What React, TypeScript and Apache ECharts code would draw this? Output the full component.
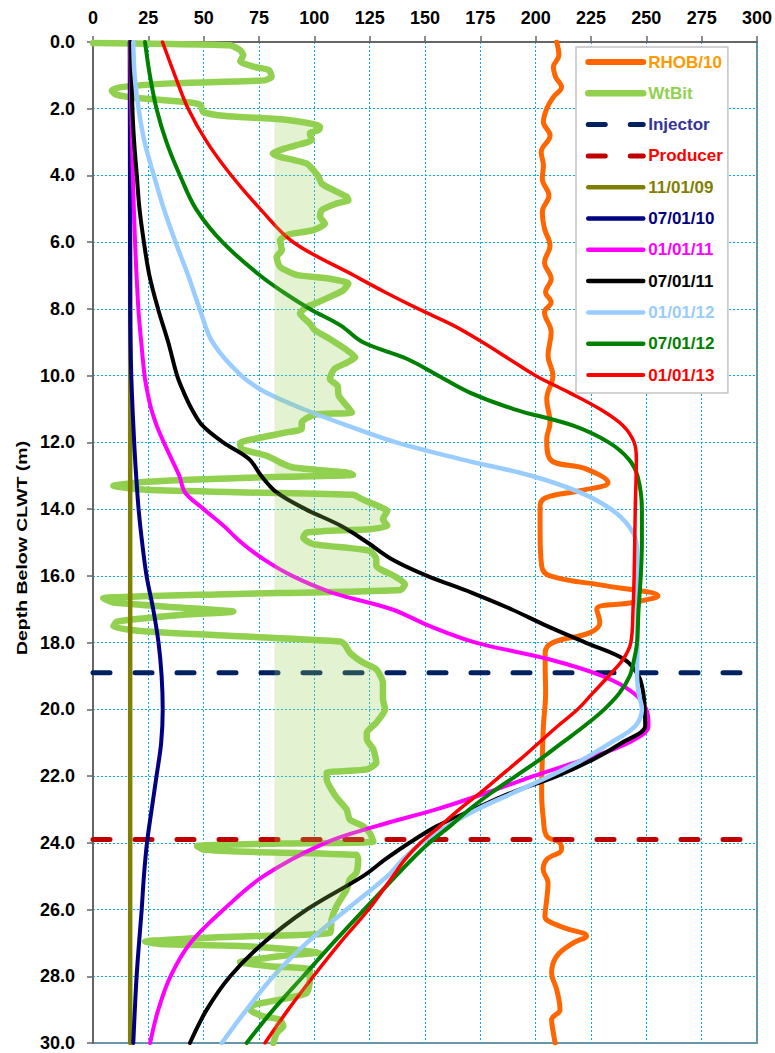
import React, { useEffect, useRef } from "react";
import * as echarts from "echarts";

// ---- axis ranges ----
const X_MIN = 0;
const X_MAX = 300;
const X_STEP = 25;
const DEPTH_MIN = 0;
const DEPTH_MAX = 30;
const DEPTH_STEP = 2;
const SHADE_BASE = 82;

// ---- data: [depth (m), value] ----
const rhob: number[][] = [
  [0, 209.5], [0.4, 210.5], [0.75, 208], [1.05, 209], [1.35, 211.7], [1.65, 208], [2.0, 205], [2.4, 203.5],
  [2.8, 206.5], [3.3, 202.5], [3.7, 203.5], [4.1, 203], [4.6, 206], [5.1, 203], [5.6, 204], [6.1, 206.5],
  [6.6, 204], [7.1, 207], [7.5, 204.5], [7.8, 207], [8.1, 204], [8.7, 207], [9.4, 205.6], [10.0, 207.8],
  [10.7, 205], [11.4, 206.5], [11.9, 205], [12.5, 206.5], [12.8, 223], [13.2, 232.7], [13.45, 220], [13.65, 205],
  [13.9, 202], [14.7, 202], [15.7, 202.7], [16.0, 206.5], [16.3, 232], [16.6, 255.3], [16.8, 244], [17.0, 227.6],
  [17.4, 229], [17.7, 224.6], [18.0, 207.8], [18.3, 204.3], [18.7, 204.3], [19.5, 204.5], [20.5, 203.5], [21.5, 203],
  [22.5, 202.7], [23.3, 203.5], [23.8, 205], [24.0, 211], [24.2, 211.7], [24.5, 205], [24.8, 203.4], [25.2, 205.6],
  [25.7, 205], [26.2, 204.2], [26.5, 211], [26.8, 223], [27.0, 217], [27.4, 209.5], [27.9, 207.2], [28.4, 209.5],
  [29.0, 211], [29.3, 207.2], [29.7, 208], [30.0, 208.8],
];

const wtBit: number[][] = [
  [0.03, 0], [0.06, 35], [0.1, 62], [0.24, 66.4], [0.4, 67.9], [0.58, 66.5], [0.74, 72.5], [0.84, 79.5],
  [1.04, 80.7], [1.15, 77.5], [1.24, 35], [1.36, 12], [1.46, 8.5], [1.58, 10.5], [1.68, 20], [1.8, 42],
  [1.88, 48.5], [2.1, 49.8], [2.22, 60], [2.32, 86], [2.46, 99.6], [2.54, 102.6], [2.64, 101.9], [2.74, 98],
  [2.94, 98.8], [3.09, 92], [3.24, 84.5], [3.34, 81.2], [3.44, 84.5], [3.64, 96.5], [3.84, 99.6], [4.04, 101.9],
  [4.24, 103.3], [4.44, 108.6], [4.64, 114.6], [4.74, 115.4], [4.84, 110], [5.04, 103.3], [5.24, 102.6], [5.44, 104.8],
  [5.64, 99.6], [5.76, 89], [5.94, 84.5], [6.24, 85.3], [6.44, 83], [6.74, 84.5], [6.98, 92], [7.08, 105.6],
  [7.24, 115.4], [7.44, 113.1], [7.64, 107], [7.84, 100.3], [7.94, 96.5], [8.14, 93.5], [8.44, 98], [8.64, 100.3],
  [8.9, 107], [9.2, 114], [9.45, 118.5], [9.6, 115], [9.8, 109], [10.1, 107], [10.3, 110.5], [10.6, 111],
  [10.9, 114.6], [11.1, 117], [11.17, 100], [11.4, 94.3], [11.6, 94.3], [11.7, 87.5], [11.9, 72.4], [12.02, 66.4],
  [12.2, 67.2], [12.4, 78.5], [12.6, 84.5], [12.75, 90.5], [12.9, 114.6], [12.97, 117.5], [13.06, 69.4], [13.18, 24.2],
  [13.3, 9.2], [13.42, 24.2], [13.5, 69.4], [13.57, 117.6], [13.67, 120.6], [13.8, 125], [13.93, 129.7], [14.05, 133],
  [14.3, 131], [14.5, 133], [14.6, 125], [14.7, 96.5], [14.86, 95], [15.05, 99.6], [15.25, 125], [15.5, 128],
  [15.7, 128], [16.0, 136], [16.25, 141], [16.42, 139], [16.55, 60], [16.67, 4.6], [16.8, 9.2], [16.95, 39.3],
  [17.07, 63.4], [17.17, 39.3], [17.37, 10.7], [17.52, 9.2], [17.67, 24.2], [17.82, 69.4], [17.97, 111.6], [18.07, 113.9],
  [18.3, 116], [18.6, 122], [18.8, 128], [19.2, 131], [19.7, 131], [20.0, 132], [20.4, 128], [20.7, 123.7],
  [20.9, 123.7], [21.2, 126.7], [21.6, 128], [21.8, 123.7], [21.9, 105.6], [22.1, 105.6], [22.5, 108.6], [22.7, 110.8],
  [23.0, 114.6], [23.3, 116], [23.5, 122], [23.7, 125], [23.96, 126.7], [24.02, 84.5], [24.1, 47], [24.2, 50],
  [24.27, 69.4], [24.36, 119], [24.5, 119.8], [24.9, 119], [25.1, 116], [25.4, 114.6], [25.9, 110], [26.3, 107.8],
  [26.7, 107], [26.8, 69.4], [26.96, 23.5], [27.03, 30], [27.1, 69.4], [27.28, 102.6], [27.4, 84.5], [27.58, 66.4],
  [27.7, 80], [27.8, 98], [28.1, 98], [28.5, 96.5], [28.7, 84.5], [28.86, 72.4], [29.0, 71], [29.2, 77],
  [29.3, 84.5], [29.5, 86], [29.7, 83], [30.0, 81.5],
];

const injectorDepth = 18.9;
const producerDepth = 23.9;

const d091101: number[][] = [[0, 16.8], [10, 16.8], [20, 16.8], [30, 16.8]];

const d100701: number[][] = [
  [0, 16.6], [4, 16.7], [8, 16.8], [10, 17.3], [12, 18.6], [13, 19.5], [14, 20.6], [15, 22.2], [16, 24.2],
  [17, 27.2], [18, 29.6], [19, 31.0], [20, 31.5], [21, 30.8], [22, 28.7], [23, 26.5], [24, 24.4], [25, 23.0],
  [26, 22.0], [27, 20.8], [28, 19.7], [29, 18.9], [30, 18.2],
];

const d110101: number[][] = [
  [0, 16.8], [2, 17.3], [4, 18.0], [6, 19.0], [8, 20.5], [9, 21.8], [10, 23.3], [10.5, 24.6], [11, 26.3],
  [11.5, 28.8], [12, 32.0], [12.5, 35.5], [13, 39.0], [13.5, 41.6], [14, 50.0], [14.5, 59.0], [15, 67.0],
  [15.5, 77.0], [16, 90.0], [16.5, 108.0], [17, 135.0], [17.5, 152.0], [18, 173.0], [18.5, 206.0], [19, 230.0],
  [19.5, 244.0], [20, 250.0], [20.5, 251.0], [21, 242.0], [21.5, 222.0], [22, 199.0], [22.5, 178.0], [23, 155.0],
  [23.5, 128.0], [24, 105.0], [25, 77.0], [26, 59.0], [27, 44.0], [28, 35.0], [29, 29.5], [30, 25.8],
];

const d110701: number[][] = [
  [0, 17], [2, 17.8], [3, 18.6], [4, 19.8], [5, 21.0], [6, 23.0], [7, 25.5], [8, 29.4], [9, 34.0], [10, 38.0],
  [10.5, 41.0], [11, 44.6], [11.5, 49.5], [12, 58.8], [12.5, 70.5], [13, 76.0], [13.5, 83.0], [14, 96.0],
  [14.5, 112.0], [15, 124.0], [15.5, 135.0], [16, 151.0], [16.5, 171.0], [17, 189.0], [17.5, 205.0], [18, 222.5],
  [18.5, 240.0], [19, 246.5], [19.5, 248.6], [20, 249.3], [20.5, 249.5], [21, 239.0], [21.5, 226.0], [22, 209.6],
  [22.5, 189.0], [23, 172.0], [23.5, 155.4], [24, 143.0], [24.5, 132.0], [25, 122.0], [26, 96.6], [27, 77.0],
  [28, 62.0], [29, 51.4], [30, 43.8],
];

const d120101: number[][] = [
  [0, 18.2], [1, 18.8], [2, 20.6], [3, 23.3], [4, 27.5], [5, 32.0], [6, 37.3], [7, 43.0], [8, 48.2], [9, 54.0],
  [10, 67.0], [10.5, 78.0], [11, 95.0], [11.5, 115.0], [12, 137.0], [12.5, 166.0], [13, 198.0], [13.5, 220.0],
  [14, 234.0], [14.5, 242.0], [15, 245.5], [16, 246.0], [17, 246.0], [18, 246.0], [19, 245.8], [19.5, 246.5],
  [20, 248.0], [20.5, 245.0], [21, 234.0], [21.5, 221.4], [22, 206.5], [22.5, 190.0], [23, 173.5], [23.5, 160.0],
  [24, 148.5], [24.5, 140.0], [25, 133.0], [26, 114.6], [27, 96.6], [28, 81.5], [29, 69.4], [30, 58.2],
];

const d120701: number[][] = [
  [0, 23.5], [1, 25.7], [2, 28.7], [3, 33.2], [4, 39.3], [5, 46.5], [6, 58.5], [7, 75.5], [7.5, 86], [8, 98],
  [8.5, 112], [9, 122], [9.5, 142], [10, 156], [10.5, 170], [11, 190], [11.5, 217], [12, 233], [12.5, 242],
  [13, 246], [14, 248], [15, 248], [16, 247.5], [17, 246.5], [18, 245.8], [18.5, 244.5], [19, 242.5], [19.5, 238],
  [20, 231], [20.5, 222], [21, 212], [21.5, 202], [22, 191], [22.5, 180], [23, 170], [23.5, 161.3], [24, 152],
  [24.5, 144], [25, 136.8], [26, 122.5], [27, 108.5], [28, 95], [29, 81.5], [30, 69.4],
];

const d130101: number[][] = [
  [0, 31.4], [1, 37], [2, 43], [3, 51.5], [4, 62.5], [5, 75.5], [6, 90.5], [7, 118], [7.5, 132], [8, 147],
  [8.5, 163], [9, 176], [9.5, 188], [10, 200], [10.5, 215], [11, 229], [11.5, 239.5], [12, 244.5], [12.5, 245.5],
  [14, 245], [16, 244.5], [17, 244], [18, 243], [18.5, 239.5], [19, 233], [19.5, 226], [20, 219], [20.5, 210],
  [21, 201.5], [21.5, 193], [22, 184], [22.5, 175], [23, 165.5], [23.5, 156.8], [24, 148], [24.5, 141],
  [25, 135.5], [26, 124.5], [27, 111.6], [28, 99.6], [29, 88.2], [30, 77.7],
];

const FONT = "'Liberation Sans', Arial, sans-serif";

type Item = { name: string; color: string; text: string; width: number };
const legendItems: Item[] = [
  { name: "RHOB/10", color: "#FF6600", text: "#FF9900", width: 6 },
  { name: "WtBit", color: "#92D050", text: "#92D050", width: 6.5 },
  { name: "Injector", color: "#002060", text: "#333399", width: 5 },
  { name: "Producer", color: "#C00000", text: "#FF0000", width: 5 },
  { name: "11/01/09", color: "#808000", text: "#808000", width: 4.5 },
  { name: "07/01/10", color: "#000080", text: "#000080", width: 4.5 },
  { name: "01/01/11", color: "#FF00FF", text: "#FF00FF", width: 4.5 },
  { name: "07/01/11", color: "#000000", text: "#000000", width: 4.5 },
  { name: "01/01/12", color: "#99CCFF", text: "#99CCFF", width: 4.5 },
  { name: "07/01/12", color: "#008000", text: "#008000", width: 4.5 },
  { name: "01/01/13", color: "#FF0000", text: "#FF0000", width: 4 },
];

function colorOf(name: string) {
  return legendItems.find((i) => i.name === name)!.color;
}

function lineSeries(name: string, pts: number[][], width: number, extra: any = {}) {
  return {
    type: "line",
    name,
    data: pts.map(([d, v]) => [v, d]),
    symbol: "none",
    showSymbol: false,
    smooth: 0.35,
    clip: true,
    lineStyle: { color: colorOf(name), width, cap: "round", join: "round" },
    itemStyle: { color: colorOf(name) },
    emphasis: { disabled: true },
    silent: true,
    z: 2,
    ...extra,
  };
}

function dashedSeries(name: string, depth: number) {
  return {
    type: "line",
    name,
    data: [
      [X_MIN, depth],
      [X_MAX, depth],
    ],
    symbol: "none",
    showSymbol: false,
    clip: true,
    lineStyle: { color: colorOf(name), width: 5, type: [17, 25], cap: "round" },
    itemStyle: { color: colorOf(name) },
    emphasis: { disabled: true },
    silent: true,
    z: 2,
  };
}

// polygon between SHADE_BASE and the WtBit curve where WtBit exceeds it
function shadePolygon(): number[][] {
  const pts: number[][] = [];
  for (let i = 0; i < wtBit.length; i++) {
    const [d, w] = wtBit[i];
    if (i > 0) {
      const [pd, pw] = wtBit[i - 1];
      if ((pw - SHADE_BASE) * (w - SHADE_BASE) < 0) {
        const dc = pd + ((SHADE_BASE - pw) / (w - pw)) * (d - pd);
        pts.push([SHADE_BASE, dc]);
      }
    }
    pts.push([Math.max(SHADE_BASE, w), d]);
  }
  pts.push([SHADE_BASE, wtBit[wtBit.length - 1][0]]);
  pts.push([SHADE_BASE, wtBit[0][0]]);
  return pts;
}

export default function App() {
  const ref = useRef<HTMLDivElement>(null);

  useEffect(() => {
    if (!ref.current) return;
    const chart = echarts.init(ref.current, null, { renderer: "svg" });
    const poly = shadePolygon();

    const option: any = {
      animation: false,
      backgroundColor: "#ffffff",
      grid: {
        left: 93,
        right: 18,
        top: 42,
        bottom: 10,
        show: true,
        borderColor: "#8c8c8c",
        borderWidth: 2,
        backgroundColor: "transparent",
      },
      xAxis: {
        type: "value",
        position: "top",
        min: X_MIN,
        max: X_MAX,
        interval: X_STEP,
        axisLine: { show: true, lineStyle: { color: "#666666", width: 2 } },
        axisTick: { show: true, inside: false, length: 6, lineStyle: { color: "#666666", width: 1.5 } },
        axisLabel: {
          color: "#000",
          fontSize: 18,
          fontWeight: "bold",
          fontFamily: FONT,
          margin: 15,
        },
        splitLine: { show: true, lineStyle: { color: "#00B0F0", width: 1, type: [2, 2] } },
      },
      yAxis: {
        type: "value",
        inverse: true,
        min: DEPTH_MIN,
        max: DEPTH_MAX,
        interval: DEPTH_STEP,
        axisLine: { show: true, lineStyle: { color: "#666666", width: 2 } },
        axisTick: { show: true, inside: false, length: 6, lineStyle: { color: "#666666", width: 1.5 } },
        axisLabel: {
          color: "#000",
          fontSize: 18,
          fontWeight: "bold",
          fontFamily: FONT,
          margin: 18,
          formatter: (v: number) => v.toFixed(1),
        },
        splitLine: { show: true, lineStyle: { color: "#00B0F0", width: 1, type: [2, 2] } },
      },
      legend: {
        show: true,
        orient: "vertical",
        left: 576,
        top: 47,
        padding: [6.5, 5, 9.5, 9],
        itemGap: 14.3,
        itemWidth: 55,
        itemHeight: 14,
        backgroundColor: "#ffffff",
        borderColor: "#c4c4c4",
        borderWidth: 1.5,
        borderRadius: 0,
        selectedMode: false,
        itemStyle: { color: "rgba(0,0,0,0)", borderWidth: 0, opacity: 0 },
        textStyle: { fontSize: 17, fontWeight: "bold", fontFamily: FONT, lineHeight: 17 },
        data: legendItems.map((i) => ({
          name: i.name,
          textStyle: { color: i.text },
          itemStyle: { color: "rgba(0,0,0,0)", borderWidth: 0, opacity: 0 },
          lineStyle: { width: i.width, color: i.color, cap: "round", opacity: 1 },
        })),
      },
      graphic: [
        {
          type: "text",
          x: 22,
          y: 548,
          rotation: Math.PI / 2,
          scaleX: 1.3,
          style: {
            text: "Depth Below CLWT (m)",
            fontSize: 15,
            fontWeight: "bold",
            fontFamily: FONT,
            fill: "#000",
            align: "center",
            verticalAlign: "middle",
          },
        },
      ],
      series: [
        lineSeries("RHOB/10", rhob, 5, { smooth: 0.4 }),
        lineSeries("WtBit", wtBit, 6.5, { smooth: 0.2 }),
        dashedSeries("Injector", injectorDepth),
        dashedSeries("Producer", producerDepth),
        lineSeries("11/01/09", d091101, 4.5, { smooth: false }),
        lineSeries("07/01/10", d100701, 4),
        lineSeries("01/01/11", d110101, 4),
        lineSeries("07/01/11", d110701, 4),
        lineSeries("01/01/12", d120101, 4.5),
        lineSeries("07/01/12", d120701, 4),
        lineSeries("01/01/13", d130101, 3.5),
        {
          type: "custom",
          name: "shade",
          data: [[SHADE_BASE, 0]],
          clip: true,
          silent: true,
          z: 3,
          renderItem: (params: any, api: any) => {
            if (params.dataIndex !== 0) return null;
            return {
              type: "polygon",
              shape: { points: poly.map(([x, d]) => api.coord([x, d])) },
              style: { fill: "rgba(146,208,80,0.26)" },
              silent: true,
            };
          },
        },
      ],
    };

    chart.setOption(option);
    return () => chart.dispose();
  }, []);

  return (
    <div
      ref={ref}
      style={{ position: "fixed", left: 0, top: 0, width: 775, height: 1053, background: "#fff" }}
    />
  );
}
